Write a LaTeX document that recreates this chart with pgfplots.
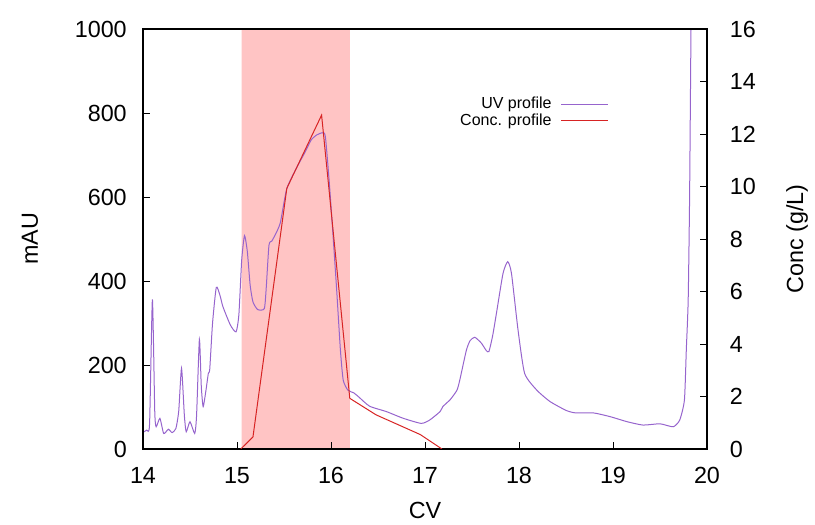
\documentclass[border=0pt]{standalone}
\usepackage{pgfplots}
\pgfplotsset{compat=1.18}
\usepackage{fontspec}
\setmainfont{Liberation Sans}

\definecolor{uvc}{RGB}{150,100,205}
\definecolor{concc}{RGB}{215,35,35}
\definecolor{shade}{RGB}{255,196,196}

\pgfplotsset{
  chrom/.style={
    scale only axis, width=423pt, height=315pt,
    xmin=14, xmax=20,
    /pgf/number format/assume math mode=true,
    /pgf/number format/1000 sep={},
    tick label style={font=\fontsize{17.5}{21}\selectfont},
    tick align=inside, major tick length=5pt,
    tick style={black, line width=0.6pt},
    axis line style={line width=0.9pt},
    legend plot pos=right,
    legend image code/.code={\draw[#1] (0pt,0pt) -- (35pt,0pt);},
  },
  keyat/.style={legend style={draw=none, fill=none, at={(axis description cs:0.833,#1)}, anchor=east,
    font=\fontsize{12}{14}\selectfont, column sep=5pt}},
}

\begin{document}
\begin{tikzpicture}
\path[use as bounding box] (-107.25pt,-57pt) rectangle (504pt,336.75pt);

% UV trace, left axis
\begin{axis}[chrom, keyat=0.821,
  axis on top,
  ymin=0, ymax=1000, ytick={0,200,...,1000},
  xtick={14,...,20}, xtick pos=bottom, ytick pos=left,
  xlabel={CV}, ylabel={mAU},
  xticklabel style={anchor=base, yshift=-25.5pt},
  yticklabel style={anchor=east, inner sep=0pt, xshift=-12pt},
  every axis x label/.style={at={(axis description cs:0.5,-0.1452)}, anchor=center,
    font=\fontsize{17.5}{21}\selectfont},
  every axis y label/.style={at={(axis description cs:-0.2004,0.5)}, anchor=center, rotate=90,
    font=\fontsize{17.5}{21}\selectfont},
]
\addplot[fill=shade, draw=none, forget plot] coordinates {(15.05,0)(15.05,1000)(16.20,1000)(16.20,0)} \closedcycle;
\addplot[draw=uvc, line width=0.75pt, smooth, tension=0.35] coordinates {
(14.00,40)(14.04,45)(14.07,60)(14.10,356)(14.125,90)(14.14,53)(14.18,73)(14.22,37)
(14.27,47)(14.31,39)(14.35,49)(14.38,90)(14.41,192)(14.44,80)(14.46,41)(14.50,65)
(14.55,37)(14.57,80)(14.60,261)(14.62,150)(14.64,101)(14.67,140)(14.695,180)(14.71,190)
(14.74,300)(14.78,385)(14.82,365)(14.85,339)(14.93,295)(14.99,279)(15.02,320)(15.05,450)
(15.08,508)(15.11,470)(15.14,390)(15.17,350)(15.22,332)(15.29,334)(15.31,380)(15.34,485)
(15.37,495)(15.40,507)(15.46,538)(15.53,620)(15.64,672)(15.72,705)(15.79,736)(15.85,748)
(15.91,753)(15.94,744)(15.98,640)(16.02,514)(16.06,380)(16.10,236)(16.13,164)(16.18,140)
(16.24,134)(16.29,125)(16.41,102)(16.59,89)(16.77,73)(16.96,61)(17.05,69)(17.16,89)
(17.19,101)(17.27,118)(17.34,140)(17.37,164)(17.44,235)(17.48,258)(17.53,266)(17.60,252)
(17.65,235)(17.68,232)(17.72,270)(17.76,323)(17.83,418)(17.88,446)(17.92,418)(17.99,283)
(18.06,180)(18.19,140)(18.33,113)(18.50,92)(18.60,86)(18.79,86)(18.97,77)(19.15,65)
(19.32,57)(19.50,60)(19.64,53)(19.71,69)(19.76,117)(19.78,236)(19.80,355)(19.815,600)
(19.83,1000)(19.84,1100)
};
\addlegendentry{UV profile}
\end{axis}

% concentration, right axis
\begin{axis}[chrom, keyat=0.782,
  ymin=0, ymax=16, ytick={0,2,...,16},
  axis y line*=right, axis x line=none,
  ylabel={Conc (g/L)},
  yticklabel style={anchor=west, inner sep=0pt, xshift=17pt},
  every axis y label/.style={at={(axis description cs:1.1596,0.5)}, anchor=center, rotate=90,
    font=\fontsize{17.5}{21}\selectfont},
]
\addplot[draw=concc, line width=0.75pt] coordinates {
(15.04,0)(15.17,0.46)(15.53,9.93)(15.90,12.72)(16.20,1.93)(16.48,1.30)(16.95,0.55)(17.18,0)
};
\addlegendentry{Conc. profile}
\end{axis}
\end{tikzpicture}
\end{document}
